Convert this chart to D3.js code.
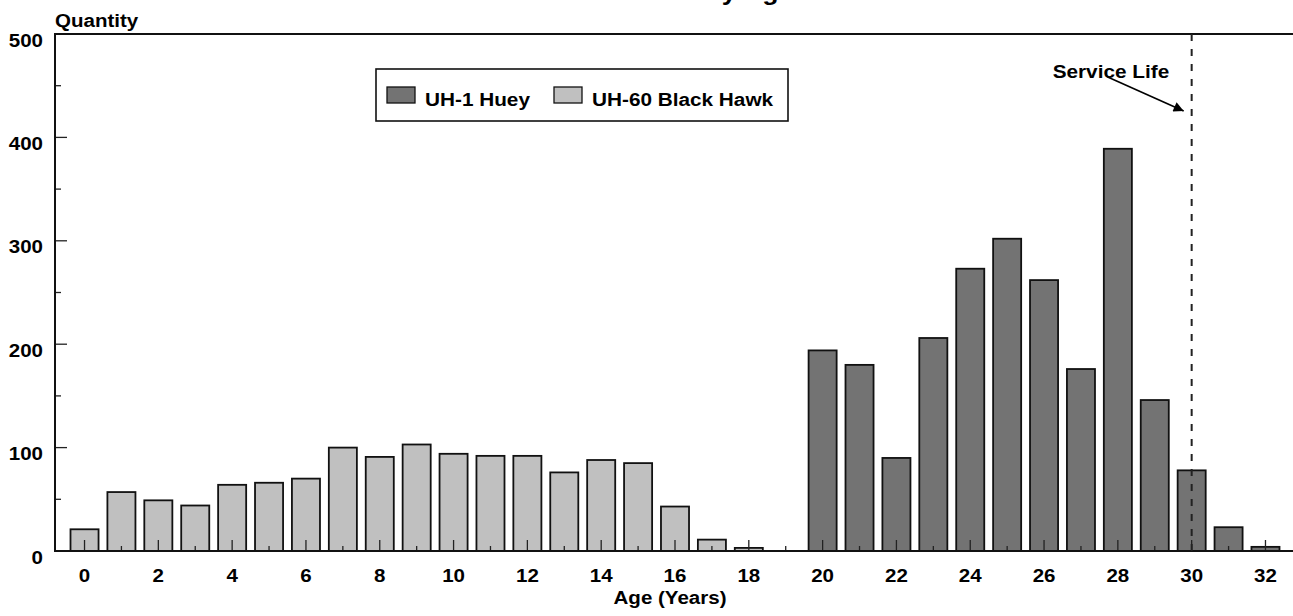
<!DOCTYPE html>
<html>
<head>
<meta charset="utf-8">
<script src="https://cdn.jsdelivr.net/npm/d3@7"></script>
<style>
  html, body { margin: 0; padding: 0; background: #fff; }
  svg { display: block; }
  text { font-family: "Liberation Sans", Arial, Helvetica, sans-serif; font-weight: bold; fill: #000; }
</style>
</head>
<body>
<svg id="chart" width="1293" height="616"></svg>
<script>
// ---- Data ----
const blackHawkAges = [0,1,2,3,4,5,6,7,8,9,10,11,12,13,14,15,16,17,18];
const blackHawkQty  = [21,57,49,44,64,66,70,100,91,103,94,92,92,76,88,85,43,11,3];
const hueyAges = [20,21,22,23,24,25,26,27,28,29,30,31,32];
const hueyQty  = [194,180,90,206,273,302,262,176,389,146,78,23,4];
const seriesNames = ["UH-1 Huey", "UH-60 Black Hawk"];
const xTickLabels = [0,2,4,6,8,10,12,14,16,18,20,22,24,26,28,30,32];
const xMinorTicks = d3.range(0, 33);
const yTickLabels = [0,100,200,300,400,500];
const yMinorTicks = [50,150,250,350,450];
const serviceLifeAge = [30];
const titleText = "Distribution by Age";
const yAxisTitle = "Quantity";
const xAxisTitle = "Age (Years)";
const annotationText = "Service Life";

// ---- Layout ----
const svg = d3.select("#chart");
const x = d3.scaleLinear().domain([-0.8, 32.8]).range([55, 1295]);
const y = d3.scaleLinear().domain([0, 500]).range([551, 34]);
const barW = x(0.76) - x(0);
const FS = 18.5, SX = 1.11;
const colors = { huey: "#737373", hawk: "#c0c0c0" };

function label(g, txt, px, py, anchor, size) {
  return g.append("text")
    .attr("transform", `translate(${px},${py}) scale(${SX},1)`)
    .attr("text-anchor", anchor || "start")
    .style("font-size", (size || FS) + "px")
    .text(txt);
}

// Title (mostly above the visible area, as in the reference)
label(svg, titleText, (x(-0.8) + x(32.8)) / 2 - 4, 0, "middle", 24);

// Bars
const gBars = svg.append("g");
gBars.selectAll("rect.hawk").data(blackHawkAges.map((a, i) => ({a, v: blackHawkQty[i]})))
  .join("rect").attr("class", "hawk")
  .attr("x", d => x(d.a) - barW / 2).attr("width", barW)
  .attr("y", d => y(d.v)).attr("height", d => y(0) - y(d.v))
  .attr("fill", colors.hawk).attr("stroke", "#111").attr("stroke-width", 1.8);
gBars.selectAll("rect.huey").data(hueyAges.map((a, i) => ({a, v: hueyQty[i]})))
  .join("rect").attr("class", "huey")
  .attr("x", d => x(d.a) - barW / 2).attr("width", barW)
  .attr("y", d => y(d.v)).attr("height", d => y(0) - y(d.v))
  .attr("fill", colors.huey).attr("stroke", "#111").attr("stroke-width", 1.8);

// X ticks (inward)
const gX = svg.append("g");
gX.selectAll("line").data(xMinorTicks).join("line")
  .attr("x1", d => x(d)).attr("x2", d => x(d))
  .attr("y1", y(0)).attr("y2", d => y(0) - (d % 2 === 0 ? 11 : 5))
  .attr("stroke", "#222").attr("stroke-width", 1.3);
xTickLabels.forEach(d => label(gX, String(d), x(d), 582, "middle"));

// Y ticks (inward)
const gY = svg.append("g");
gY.selectAll("line.maj").data(yTickLabels).join("line").attr("class", "maj")
  .attr("x1", x(-0.8)).attr("x2", x(-0.8) + 12)
  .attr("y1", d => y(d)).attr("y2", d => y(d))
  .attr("stroke", "#222").attr("stroke-width", 1.3);
gY.selectAll("line.min").data(yMinorTicks).join("line").attr("class", "min")
  .attr("x1", x(-0.8)).attr("x2", x(-0.8) + 6)
  .attr("y1", d => y(d)).attr("y2", d => y(d))
  .attr("stroke", "#222").attr("stroke-width", 1.3);
yTickLabels.forEach(d => label(gY, String(d), 43, y(d) + 12.5, "end"));

// Frame
svg.append("path")
  .attr("d", `M${x(32.8)},${y(500)} H${x(-0.8)} V${y(0)} H${x(32.8)}`)
  .attr("fill", "none").attr("stroke", "#111").attr("stroke-width", 2);

// Axis titles
label(svg, yAxisTitle, 55, 27, "start", 18.5);
label(svg, xAxisTitle, 670, 604, "middle", 18.5);

// Service life dashed line
svg.selectAll("line.svc").data(serviceLifeAge).join("line").attr("class", "svc")
  .attr("x1", d => x(d)).attr("x2", d => x(d))
  .attr("y1", y(500)).attr("y2", y(0))
  .attr("stroke", "#222").attr("stroke-width", 2).attr("stroke-dasharray", "7,8");

// Annotation arrow
svg.append("defs").append("marker")
  .attr("id", "arr").attr("viewBox", "0 0 10 10").attr("refX", 10).attr("refY", 5)
  .attr("markerWidth", 16).attr("markerHeight", 10).attr("markerUnits", "userSpaceOnUse")
  .attr("orient", "auto")
  .append("path").attr("d", "M0,0 L10,5 L0,10 Z").attr("fill", "#000");
const sx = x(serviceLifeAge[0]);
svg.append("line")
  .attr("x1", sx - 84).attr("y1", 77).attr("x2", sx - 8).attr("y2", 111)
  .attr("stroke", "#000").attr("stroke-width", 1.6).attr("marker-end", "url(#arr)");
label(svg, annotationText, sx - 139, 78, "start", 18.7);

// Legend
const lg = svg.append("g");
lg.append("rect").attr("x", 376).attr("y", 69).attr("width", 412).attr("height", 52)
  .attr("fill", "#fff").attr("stroke", "#111").attr("stroke-width", 1.6);
const legItems = [
  {name: seriesNames[0], fill: colors.huey, sx: 387, tx: 425},
  {name: seriesNames[1], fill: colors.hawk, sx: 554, tx: 592}
];
legItems.forEach(it => {
  lg.append("rect").attr("x", it.sx).attr("y", 87).attr("width", 28).attr("height", 16)
    .attr("fill", it.fill).attr("stroke", "#111").attr("stroke-width", 1.3);
  label(lg, it.name, it.tx, 105.5, "start", 18.7);
});
</script>
</body>
</html>
